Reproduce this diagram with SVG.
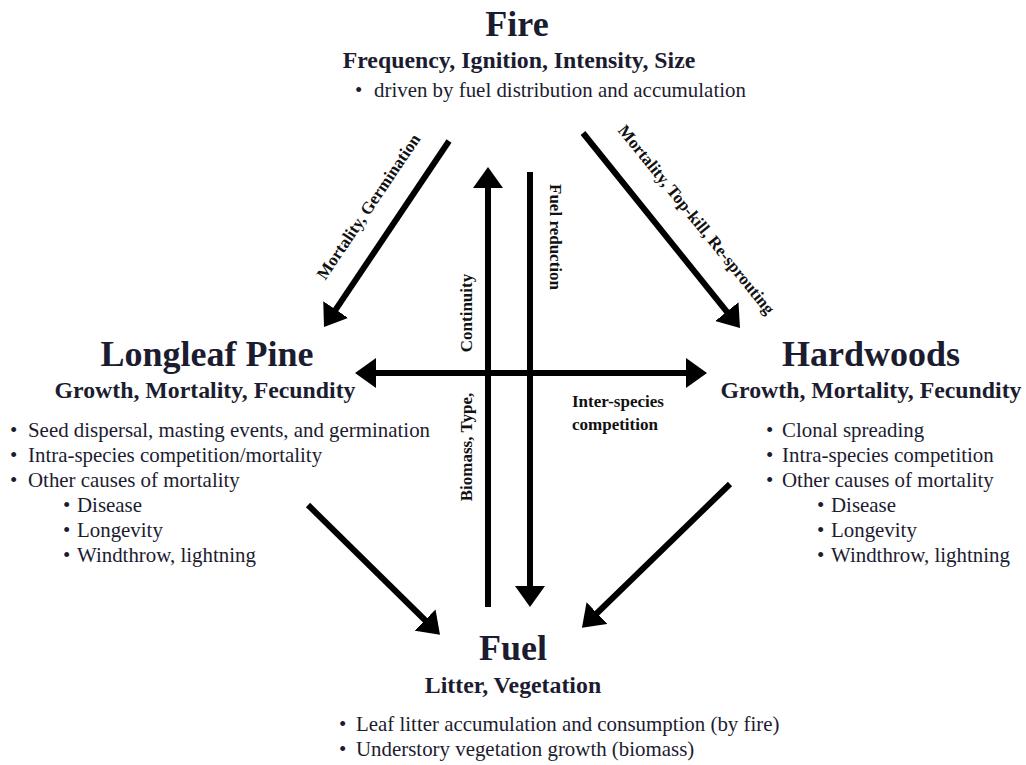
<svg xmlns="http://www.w3.org/2000/svg" width="1026" height="765" viewBox="0 0 1026 765">
<style>
text{font-family:"Liberation Serif","Times New Roman",serif;fill:#1c1c30}
.t{font-size:36px;font-weight:bold;text-anchor:middle}
.s{font-size:23.8px;font-weight:bold;text-anchor:middle}
.b{font-size:20.9px}
.l{font-size:17px;font-weight:bold;fill:#111}
.c{stroke:#000;stroke-width:6;fill:none;marker-end:url(#ah)}
</style>
<defs>
<marker id="ah" viewBox="0 0 21 30" refX="7" refY="15" markerWidth="21" markerHeight="30" markerUnits="userSpaceOnUse" orient="auto-start-reverse">
<path d="M0,0 L21,15 L0,30 Z" fill="#000"/>
</marker>
</defs>
<rect width="1026" height="765" fill="#fff"/>
<g id="connectors">
<line class="c" x1="449" y1="141" x2="331.8" y2="315.4"/>
<line class="c" x1="583" y1="133" x2="731.2" y2="317.1"/>
<line class="c" x1="488" y1="607" x2="488" y2="181"/>
<line class="c" x1="530" y1="172" x2="530" y2="593"/>
<line class="c" x1="369" y1="373" x2="693" y2="373" style="marker-start:url(#ah)"/>
<line class="c" x1="308" y1="505" x2="430" y2="625"/>
<line class="c" x1="730" y1="484" x2="592" y2="618"/>
<text class="l" text-anchor="middle" transform="translate(369,207) rotate(-56)" y="5">Mortality, Germination</text>
<text class="l" text-anchor="middle" transform="translate(696,220) rotate(51)" y="5">Mortality, Top-kill, Re-sprouting</text>
<text class="l" text-anchor="middle" transform="translate(472,313) rotate(-90)">Continuity</text>
<text class="l" text-anchor="middle" transform="translate(472,447) rotate(-90)">Biomass, Type,</text>
<text class="l" text-anchor="middle" transform="translate(550,237) rotate(90)">Fuel reduction</text>
<text class="l" x="572" y="407">Inter-species</text>
<text class="l" x="572" y="430">competition</text>
</g>
<g id="fire">
<text class="t" x="517" y="36">Fire</text>
<text class="s" x="519" y="68">Frequency, Ignition, Intensity, Size</text>
<text class="b" y="97"><tspan x="355">•</tspan><tspan x="374">driven by fuel distribution and accumulation</tspan></text>
</g>
<g id="longleaf">
<text class="t" x="207" y="366">Longleaf Pine</text>
<text class="s" x="205" y="398">Growth, Mortality, Fecundity</text>
<text class="b" y="437"><tspan x="10">•</tspan><tspan x="28">Seed dispersal, masting events, and germination</tspan></text>
<text class="b" y="462"><tspan x="10">•</tspan><tspan x="28">Intra-species competition/mortality</tspan></text>
<text class="b" y="487"><tspan x="10">•</tspan><tspan x="28">Other causes of mortality</tspan></text>
<text class="b" y="512"><tspan x="63">•</tspan><tspan x="77">Disease</tspan></text>
<text class="b" y="537"><tspan x="63">•</tspan><tspan x="77">Longevity</tspan></text>
<text class="b" y="562"><tspan x="63">•</tspan><tspan x="77">Windthrow, lightning</tspan></text>
</g>
<g id="hardwoods">
<text class="t" x="871" y="366">Hardwoods</text>
<text class="s" x="871" y="398">Growth, Mortality, Fecundity</text>
<text class="b" y="437"><tspan x="766">•</tspan><tspan x="782">Clonal spreading</tspan></text>
<text class="b" y="462"><tspan x="766">•</tspan><tspan x="782">Intra-species competition</tspan></text>
<text class="b" y="487"><tspan x="766">•</tspan><tspan x="782">Other causes of mortality</tspan></text>
<text class="b" y="512"><tspan x="817">•</tspan><tspan x="831">Disease</tspan></text>
<text class="b" y="537"><tspan x="817">•</tspan><tspan x="831">Longevity</tspan></text>
<text class="b" y="562"><tspan x="817">•</tspan><tspan x="831">Windthrow, lightning</tspan></text>
</g>
<g id="fuel">
<text class="t" x="513" y="660">Fuel</text>
<text class="s" x="513" y="693">Litter, Vegetation</text>
<text class="b" y="731"><tspan x="339">•</tspan><tspan x="356">Leaf litter accumulation and consumption (by fire)</tspan></text>
<text class="b" y="756"><tspan x="339">•</tspan><tspan x="356">Understory vegetation growth (biomass)</tspan></text>
</g>
</svg>
